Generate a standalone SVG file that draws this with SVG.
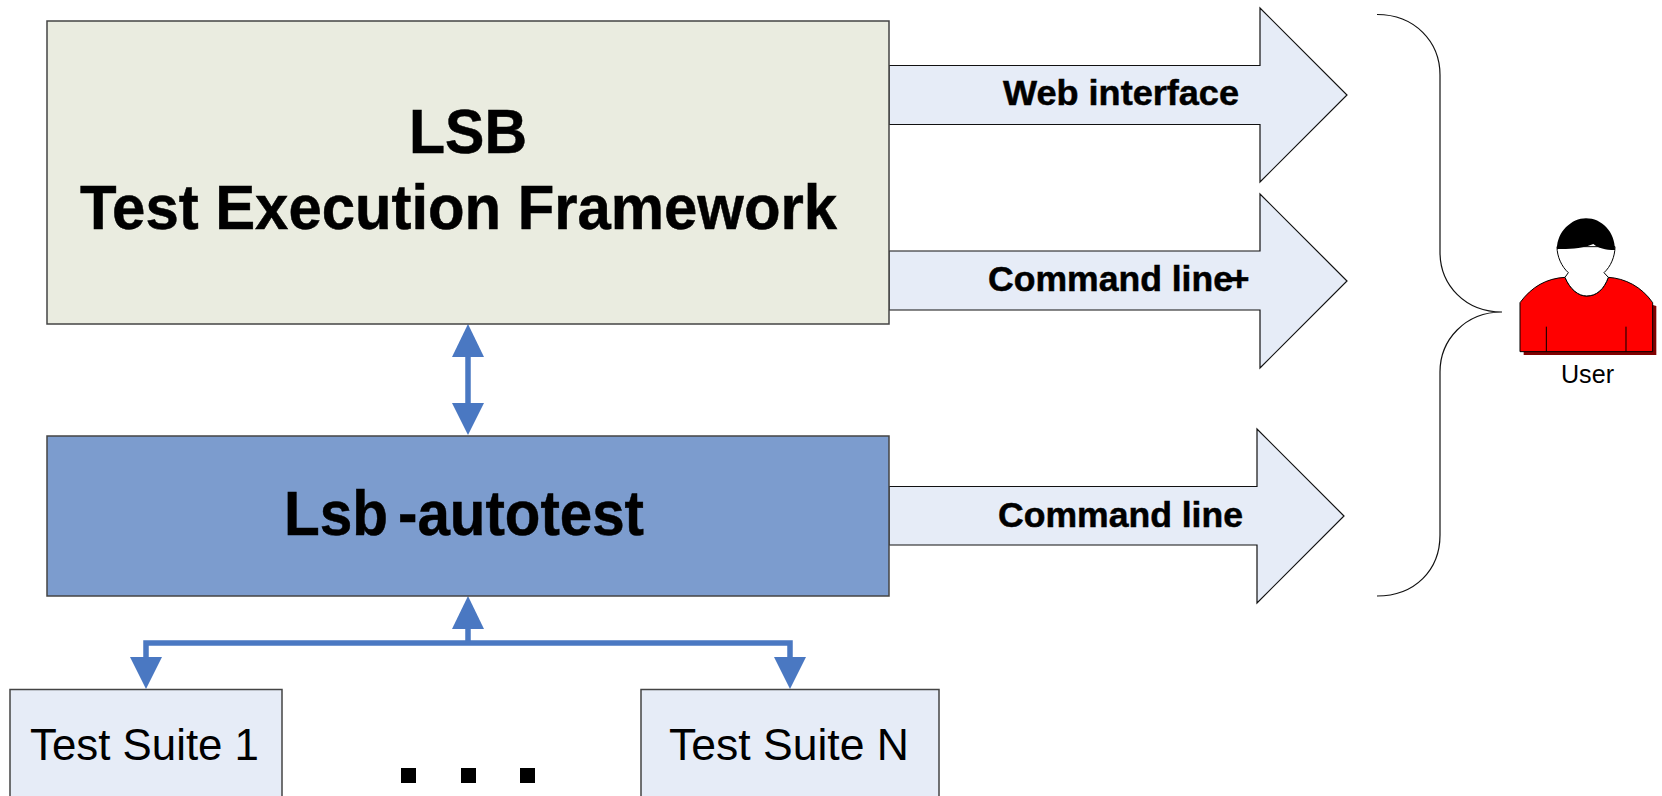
<svg xmlns="http://www.w3.org/2000/svg" width="1662" height="796" viewBox="0 0 1662 796">
<style>
text{font-family:"Liberation Sans",Arial,sans-serif;fill:#000}
.b{font-weight:bold;stroke:#000;stroke-width:.5}
.box{stroke:#444;stroke-width:1.5}
.arrow{fill:#E6ECF7;stroke:#111;stroke-width:1.2}
.link{fill:none;stroke:#4A78C2;stroke-width:5.5}
.head{fill:#4A78C2}
</style>
<rect width="1662" height="796" fill="#fff"/>
<g id="connectors">
<path class="link" d="M468 350V410"/>
<polygon class="head" points="468,324 484,357 452,357"/>
<polygon class="head" points="468,435 484,403 452,403"/>
<path class="link" d="M468 620V643M146 662V643H790V662"/>
<polygon class="head" points="468,596 484,629 452,629"/>
<polygon class="head" points="146,689 130,657 162,657"/>
<polygon class="head" points="790,689 774,657 806,657"/>
</g>
<g id="arrow-web"><polygon class="arrow" points="889,65.500 1260,65.500 1260,8 1347,95 1260,182 1260,124.500 889,124.500"/>
<text class="b" x="1003" y="105" font-size="35" textLength="236" lengthAdjust="spacingAndGlyphs">Web interface</text></g>
<g id="arrow-cmdplus"><polygon class="arrow" points="889,251 1260,251 1260,194 1347,281 1260,368 1260,310 889,310"/>
<text class="b" y="290.500" font-size="35"><tspan x="988" textLength="245" lengthAdjust="spacingAndGlyphs">Command line</tspan><tspan x="1229">+</tspan></text></g>
<g id="arrow-cmd"><polygon class="arrow" points="889,486.500 1257,486.500 1257,429 1344,516 1257,603 1257,545 889,545"/>
<text class="b" x="998" y="526.500" font-size="35" textLength="245" lengthAdjust="spacingAndGlyphs">Command line</text></g>
<g id="framework"><rect class="box" x="47" y="21" width="842" height="303" fill="#EAECE0"/>
<text class="b" x="409" y="153" font-size="63" textLength="118" lengthAdjust="spacingAndGlyphs">LSB</text>
<text class="b" x="80" y="229" font-size="63" textLength="757" lengthAdjust="spacingAndGlyphs">Test Execution Framework</text></g>
<g id="autotest"><rect class="box" x="47" y="436" width="842" height="160" fill="#7C9CCE"/>
<text class="b" y="534.500" font-size="63"><tspan x="284" textLength="104" lengthAdjust="spacingAndGlyphs">Lsb</tspan><tspan x="398" textLength="246" lengthAdjust="spacingAndGlyphs">-autotest</tspan></text></g>
<g id="suite-1"><rect class="box" x="10" y="689.500" width="272" height="120" fill="#E6ECF7"/>
<text x="30" y="760" font-size="44" textLength="229" lengthAdjust="spacingAndGlyphs">Test Suite 1</text></g>
<g id="suite-n"><rect class="box" x="641" y="689.500" width="298" height="120" fill="#E6ECF7"/>
<text x="669" y="760" font-size="44" textLength="240" lengthAdjust="spacingAndGlyphs">Test Suite N</text></g>
<g id="dots" fill="#000"><rect x="401" y="768" width="15" height="15"/><rect x="461" y="768" width="15" height="15"/><rect x="520" y="768" width="15" height="15"/></g>
<g id="brace"><path d="M1377 14.500C1415 14.500 1440 42 1440 75V252C1440 285 1465 312 1502 312C1465 312 1440 340 1440 372V535C1440 570 1415 596 1377 596" fill="none" stroke="#111" stroke-width="1.2"/></g>
<g id="user">
<g transform="translate(1250 0) scale(.33333)" stroke-width="3">
<path d="M821 1065V918C850 870 900 845 956 842L1219 918V1065Z" fill="#800000"/>
<path d="M810 1055V908C845 860 890 835 945 832C960 868 985 888 1010 888C1040 888 1062 868 1075 832C1125 835 1175 860 1208 908V1055Z" fill="#f00" stroke="#000"/>
<path d="M921 740C921 770 935 800 955 818L945 832C960 868 985 888 1010 888C1040 888 1062 868 1075 832L1062 818C1082 800 1095 770 1095 740Z" fill="#fff" stroke="#000"/>
<path d="M921 747C921 695 965 655 1008 655C1055 655 1095 695 1095 750C1065 750 1045 745 1030 732C1000 745 960 748 921 747Z" fill="#000"/>
<path d="M889 980V1055M1128 980V1055" fill="none" stroke="#000"/>
</g>
<text x="1561" y="383" font-size="25" textLength="53" lengthAdjust="spacingAndGlyphs">User</text>
</g>
</svg>
